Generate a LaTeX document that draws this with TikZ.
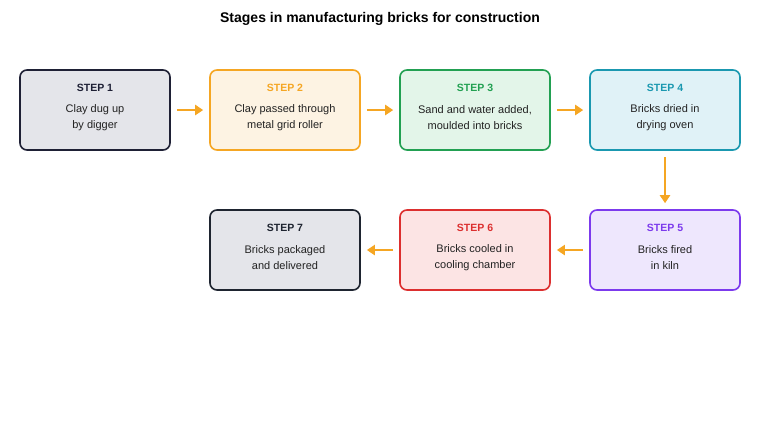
\documentclass[tikz,border=0pt]{standalone}
\usepackage{fontspec}
\setmainfont{Liberation Sans}
\usetikzlibrary{arrows.meta}
\definecolor{c1}{HTML}{1E2035}\definecolor{f1}{HTML}{E4E5EA}
\definecolor{c2}{HTML}{F5A623}\definecolor{f2}{HTML}{FDF3E3}
\definecolor{c3}{HTML}{22A052}\definecolor{f3}{HTML}{E3F5E9}
\definecolor{c4}{HTML}{1A98B0}\definecolor{f4}{HTML}{E0F2F7}
\definecolor{c5}{HTML}{7C3AED}\definecolor{f5}{HTML}{EEE7FD}
\definecolor{c6}{HTML}{DC2F2F}\definecolor{f6}{HTML}{FCE4E4}
\definecolor{c7}{HTML}{1E2430}\definecolor{f7}{HTML}{E4E5EA}
\definecolor{txt}{HTML}{222222}
\begin{document}
\begin{tikzpicture}[x=1pt,y=-1pt,
 box/.style={draw=#1,line width=1.6pt,rounded corners=7pt,minimum width=150pt,minimum height=80pt,inner sep=0pt},
 hd/.style={font=\bfseries\fontsize{10.5}{12}\selectfont},
 bd/.style={font=\fontsize{11}{16}\selectfont,align=center,text=txt},
 arr/.style={draw=c2,line width=2pt,-{Triangle[length=8pt,width=10pt]}}]
\useasboundingbox (0,0) rectangle (760,440);
\node[font=\bfseries\fontsize{14}{16}\selectfont] (title) at (380,19) {Stages in manufacturing bricks for construction};
\foreach \n/\x/\y/\c/\f/\t/\a/\b in {
 1/95/110/c1/f1/STEP 1/Clay dug up/by digger,
 2/285/110/c2/f2/STEP 2/Clay passed through/metal grid roller,
 3/475/110/c3/f3/STEP 3/{Sand and water added,}/moulded into bricks,
 4/665/110/c4/f4/STEP 4/Bricks dried in/drying oven,
 5/665/250/c5/f5/STEP 5/Bricks fired/in kiln,
 6/475/250/c6/f6/STEP 6/Bricks cooled in/cooling chamber,
 7/285/250/c7/f7/STEP 7/Bricks packaged/and delivered}{
 \node[box=\c,fill=\f] (s\n) at (\x,\y) {};
 \node[hd,text=\c] (h\n) at (\x,\y-22) {\t};
 \node[bd] (b\n) at (\x,\y+8) {\a\\\b};
}
\draw[arr] (s1.east)++(6,0) -- ([xshift=-6pt]s2.west);
\draw[arr] ([xshift=6pt]s2.east) -- ([xshift=-6pt]s3.west);
\draw[arr] ([xshift=6pt]s3.east) -- ([xshift=-6pt]s4.west);
\draw[arr] ([yshift=-6pt]s4.south) -- ([yshift=6pt]s5.north);
\draw[arr] ([xshift=-6pt]s5.west) -- ([xshift=6pt]s6.east);
\draw[arr] ([xshift=-6pt]s6.west) -- ([xshift=6pt]s7.east);
\end{tikzpicture}
\end{document}
